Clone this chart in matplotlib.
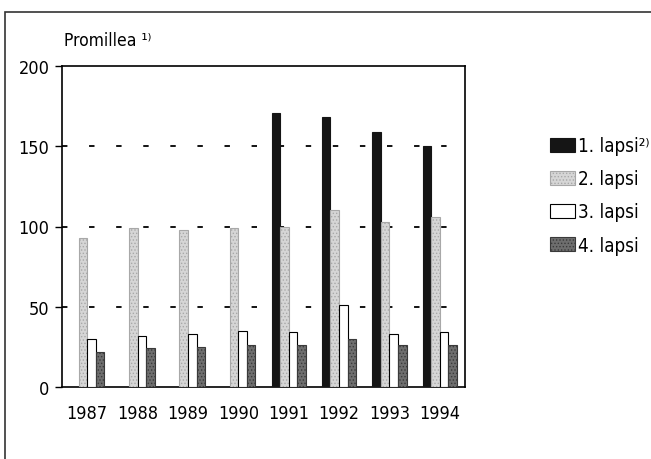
import matplotlib.pyplot as plt
import matplotlib.patches as mpatches
import numpy as np

years = ['1987', '1988', '1989', '1990', '1991', '1992', '1993', '1994']
lapsi1 = [np.nan, np.nan, np.nan, np.nan, 171, 168, 159, 150]
lapsi2 = [93, 99, 98, 99, 100, 110, 103, 106]
lapsi3 = [30, 32, 33, 35, 34, 51, 33, 34]
lapsi4 = [22, 24, 25, 26, 26, 30, 26, 26]
labels = ['1. lapsi²⁾', '2. lapsi', '3. lapsi', '4. lapsi']

plt.rcParams['font.family'] = ['DejaVu Sans']
plt.rcParams['font.stretch'] = 'condensed'
plt.rcParams['hatch.linewidth'] = 0.6

fig = plt.figure(figsize=(6.51, 4.60), dpi=100)
ax = fig.add_axes([62 / 651, 1 - 388 / 460, 403 / 651, 321 / 460])

x = np.arange(len(years))
w = 0.17
styles = [
    dict(facecolor='#151515', edgecolor='#151515'),
    dict(facecolor='#d6d6d6', edgecolor='#a8a8a8', hatch='.....'),
    dict(facecolor='white', edgecolor='black'),
    dict(facecolor='#6e6e6e', edgecolor='#3a3a3a', hatch='.....'),
]
series = [lapsi1, lapsi2, lapsi3, lapsi4]
handles = []
for i, (vals, st) in enumerate(zip(series, styles)):
    v = np.array(vals, dtype=float)
    ax.bar(x + (i - 1.5) * w, v, width=w, linewidth=0.8, zorder=3, **st)
    handles.append(mpatches.Patch(label=labels[i], linewidth=0.8, **st))

for yv in [50, 100, 150]:
    ax.axhline(yv, color='black', linestyle=(0, (3, 12)), linewidth=1.3, zorder=1)

ax.set_xlim(-0.5, 7.5)
ax.set_ylim(0, 200)
ax.set_yticks([0, 50, 100, 150, 200])
ax.set_xticks(x)
ax.set_xticklabels(years)
ax.tick_params(axis='x', length=0, pad=12, labelsize=13)
ax.tick_params(axis='y', length=5, width=1, labelsize=13, pad=4)
for s in ax.spines.values():
    s.set_linewidth(1.2)

fig.text(64 / 651, 1 - 50 / 460, 'Promillea ¹⁾', fontsize=12.5, va='bottom', ha='left')

fig.legend(handles=handles, loc='upper left', bbox_to_anchor=(541 / 651, 1 - 128 / 460),
           frameon=False, fontsize=13.5, handlelength=1.3, handleheight=0.8,
           handletextpad=0.15, labelspacing=0.75, borderpad=0)

# outer frame
fig.add_artist(mpatches.Rectangle((5 / 651, -0.05), 1.2, 1 - 13 / 460 + 0.05,
                                  transform=fig.transFigure, fill=False,
                                  edgecolor='#333333', linewidth=1.2))

fig.savefig('out.png', dpi=100)
